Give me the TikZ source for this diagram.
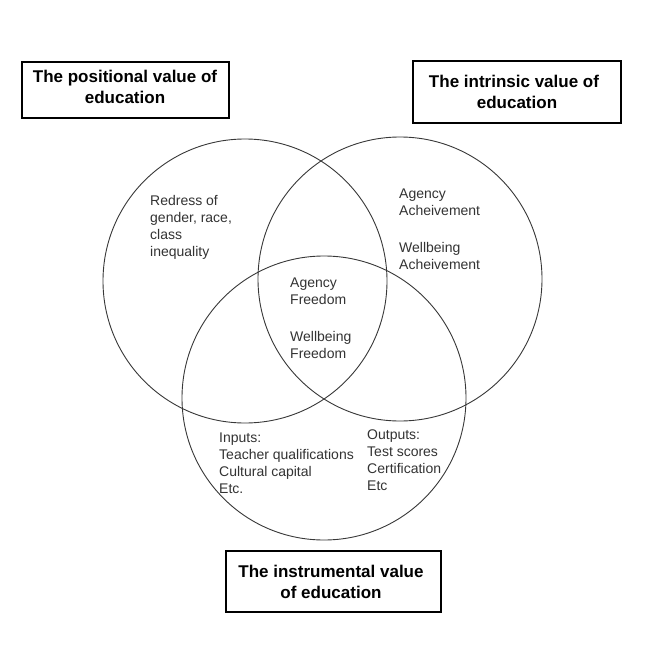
\documentclass[tikz,border=0pt]{standalone}
\usepackage{fontspec}
\setmainfont{Liberation Sans}
\newcommand\txtlines[2][l]{\begin{tabular}[t]{@{}#1@{}}#2\end{tabular}}
\begin{document}
\begin{tikzpicture}[x=1pt,y=-1pt,
  ring/.style={draw=black!78,line width=0.9pt},
  titlebox/.style={draw=black,line width=1.5pt,inner sep=0pt},
  titletext/.style={inner sep=0pt,anchor=base,text=black,
    font=\fontsize{17}{21}\selectfont\bfseries},
  bodytext/.style={inner sep=0pt,anchor=base west,text=black!80,
    font=\fontsize{14}{17}\selectfont}]
\useasboundingbox[fill=white] (0,0) rectangle (650,656);

% the three overlapping circles
\draw[ring] (245,281) circle[radius=142pt];
\draw[ring] (400,279) circle[radius=142pt];
\draw[ring] (324,398) circle[radius=142pt];

% framed titles
\node[titlebox,minimum width=207pt,minimum height=56pt] (boxpos) at (125.5,90) {};
\node[titletext] (tpos) at (125,82) {\txtlines[c]{The positional value of\\education}};
\node[titlebox,minimum width=208pt,minimum height=62pt] (boxint) at (517,92) {};
\node[titletext] (tint) at (514,87) {\txtlines[c]{The intrinsic value of\\\hspace*{6pt}education}};
\node[titlebox,minimum width=215pt,minimum height=61pt] (boxins) at (333.5,581.5) {};
\node[titletext] (tins) at (331,577) {\txtlines[c]{The instrumental value\\of education}};

% region texts
\node[bodytext] (redress) at (150,205) {\txtlines{Redress of\\gender, race,\\class\\inequality}};
\node[bodytext] (achieve) at (399,198) {\txtlines{Agency\\Acheivement\\[20pt]Wellbeing\\Acheivement}};
\node[bodytext] (freedom) at (290,287) {\txtlines{Agency\\Freedom\\[20pt]Wellbeing\\Freedom}};
\node[bodytext] (inputs) at (219,442) {\txtlines{Inputs:\\Teacher qualifications\\Cultural capital\\Etc.}};
\node[bodytext] (outputs) at (367,439) {\txtlines{Outputs:\\Test scores\\Certification\\Etc}};
\end{tikzpicture}
\end{document}
